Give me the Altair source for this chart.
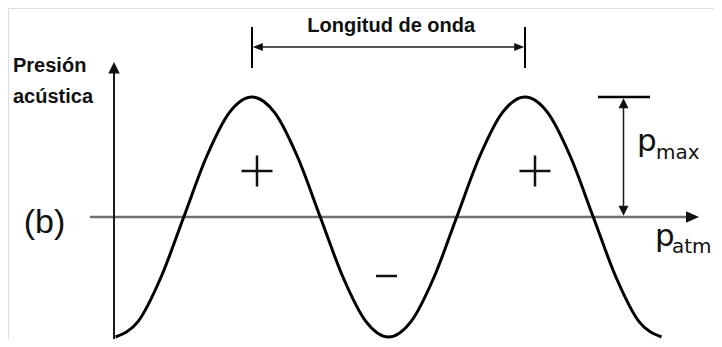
import altair as alt
import pandas as pd

# ---------------- data ----------------
# phase along the x axis, in wavelengths, and normalised acoustic pressure
wave_phase = [0.0, 0.083, 0.167, 0.25, 0.333, 0.417, 0.5, 0.583, 0.667, 0.75, 0.833, 0.917,
              1.0, 1.083, 1.167, 1.25, 1.333, 1.417, 1.5, 1.583, 1.667, 1.75, 1.833, 1.917, 2.0]
wave_pressure = [-1.0, -0.87, -0.5, 0.0, 0.5, 0.87, 1.0, 0.87, 0.5, 0.0, -0.5, -0.87,
                 -1.0, -0.87, -0.5, 0.0, 0.5, 0.87, 1.0, 0.87, 0.5, 0.0, -0.5, -0.87, -1.0]

wavelength_label = "Longitud de onda"
y_label_lines = ["Presión", "acústica"]
panel_label = "(b)"
sign_labels = ["+", "+", "−"]
p_symbol = "p"
p_subscripts = ["max", "atm"]

# ---------------- layout (data units) ----------------
X_DOMAIN = [-0.3938, 2.1923]
Y_DOMAIN = [-1.0167, 1.7417]

xs = alt.Scale(domain=X_DOMAIN, zero=False, nice=False)
ys = alt.Scale(domain=Y_DOMAIN, zero=False, nice=False)


def X(f="t"):
    return alt.X(f"{f}:Q", scale=xs, axis=None)


def Y(f="p"):
    return alt.Y(f"{f}:Q", scale=ys, axis=None)


wave_df = pd.DataFrame({"t": wave_phase, "p": wave_pressure})

wave = alt.Chart(wave_df).mark_line(
    color="black", strokeWidth=3, interpolate="monotone"
).encode(x=X(), y=Y())

h_axis = alt.Chart(pd.DataFrame({"t": [-0.0934], "t2": [2.10], "p": [0.0]})).mark_rule(
    color="#707070", strokeWidth=2.5
).encode(x=X(), x2="t2:Q", y=Y())

v_axis = alt.Chart(pd.DataFrame({"t": [-0.0055], "p": [1.22], "p2": [-1.10]})).mark_rule(
    color="#1a1a1a", strokeWidth=2
).encode(x=X(), y=Y(), y2="p2:Q")

wl_ticks = alt.Chart(pd.DataFrame({"t": [0.5, 1.5], "p": [1.5833, 1.5833], "p2": [1.2417, 1.2417]})).mark_rule(
    color="black", strokeWidth=2
).encode(x=X(), y=Y(), y2="p2:Q")

wl_line = alt.Chart(pd.DataFrame({"t": [0.51], "t2": [1.49], "p": [1.4167]})).mark_rule(
    color="#1a1a1a", strokeWidth=1.5
).encode(x=X(), x2="t2:Q", y=Y())

pmax_bar = alt.Chart(pd.DataFrame({"t": [1.7674], "t2": [1.9579], "p": [1.0]})).mark_rule(
    color="black", strokeWidth=2.5
).encode(x=X(), x2="t2:Q", y=Y())

pmax_line = alt.Chart(pd.DataFrame({"t": [1.8608], "p": [0.97], "p2": [0.03]})).mark_rule(
    color="#1a1a1a", strokeWidth=1.5
).encode(x=X(), y=Y(), y2="p2:Q")

UP = "M0,0L-1,2L1,2Z"
DOWN = "M0,0L-1,-2L1,-2Z"
LEFT = "M0,0L2,-0.8L2,0.8Z"
RIGHT = "M0,0L-2,-0.8L-2,0.8Z"
RIGHT_AX = "M0,0L-2,-0.9L-2,0.9Z"

arrows_df = pd.DataFrame({
    "t": [-0.0055, 2.1374, 0.503, 1.497, 1.8608, 1.8608],
    "p": [1.2917, 0.0, 1.4167, 1.4167, 0.99, 0.01],
    "shape": [UP, RIGHT_AX, LEFT, RIGHT, UP, DOWN],
    "size": [132, 169, 100, 100, 100, 100],
})
arrows = alt.Chart(arrows_df).mark_point(filled=True, opacity=1, color="#111", strokeWidth=0).encode(
    x=X(), y=Y(),
    shape=alt.Shape("shape:N", scale=None),
    size=alt.Size("size:Q", scale=None),
)

PLUS = "M-1,0L1,0M0,-1L0,1"
MINUS = "M-1,0L1,0"
signs_df = pd.DataFrame({
    "label": sign_labels,
    "t": [0.5183, 1.5366, 0.9927],
    "p": [0.3833, 0.3833, -0.4917],
    "shape": [PLUS, PLUS, MINUS],
    "size": [961, 961, 441],
})
signs = alt.Chart(signs_df).mark_point(filled=False, opacity=1, color="#111", strokeWidth=2.5).encode(
    x=X(), y=Y(),
    shape=alt.Shape("shape:N", scale=None),
    size=alt.Size("size:Q", scale=None),
)

bold_df = pd.DataFrame({
    "text": [wavelength_label] + y_label_lines,
    "t": [1.01, -0.3755, -0.3755],
    "p": [1.5417, 1.2083, 0.95],
})
title_txt = alt.Chart(bold_df.iloc[:1]).mark_text(
    font="Liberation Sans", fontWeight="bold", fontSize=20, color="#111",
    align="center", baseline="alphabetic"
).encode(x=X(), y=Y(), text="text:N")
ylab_txt = alt.Chart(bold_df.iloc[1:]).mark_text(
    font="Liberation Sans", fontWeight="bold", fontSize=20, color="#111",
    align="left", baseline="alphabetic"
).encode(x=X(), y=Y(), text="text:N")

panel_txt = alt.Chart(pd.DataFrame({"text": [panel_label], "t": [-0.336], "p": [-0.1333]})).mark_text(
    font="Liberation Sans", fontSize=34, color="#111", align="left", baseline="alphabetic"
).encode(x=X(), y=Y(), text="text:N")

p_txt = alt.Chart(pd.DataFrame({"text": [p_symbol, p_symbol], "t": [1.9103, 1.9762], "p": [0.55, -0.2417]})).mark_text(
    font="DejaVu Sans", fontSize=31, color="#111", align="left", baseline="alphabetic"
).encode(x=X(), y=Y(), text="text:N")

sub_txt = alt.Chart(pd.DataFrame({"text": p_subscripts, "t": [1.9799, 2.0385], "p": [0.4833, -0.30]})).mark_text(
    font="DejaVu Sans", fontSize=20, color="#111", align="left", baseline="alphabetic"
).encode(x=X(), y=Y(), text="text:N")

chart = alt.layer(
    h_axis, v_axis, wave, wl_ticks, wl_line, pmax_bar, pmax_line, arrows, signs,
    title_txt, ylab_txt, panel_txt, p_txt, sub_txt
).properties(
    width=706, height=331, autosize=alt.AutoSizeParams(type="none"), padding=0
).configure_view(stroke=None).configure(background="white")

chart.save("out.html", embed_options={"renderer": "svg", "actions": False})
